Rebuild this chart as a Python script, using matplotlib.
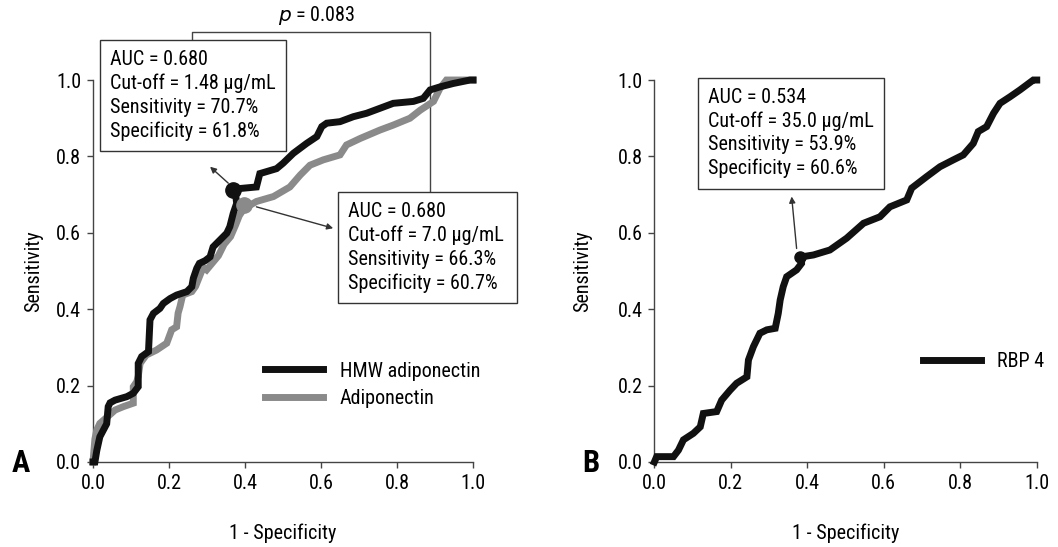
import matplotlib
matplotlib.use('Agg')
import matplotlib.pyplot as plt

plt.rcParams['font.family'] = ['Liberation Sans Narrow', 'Roboto Condensed', 'Liberation Sans', 'DejaVu Sans']
plt.rcParams['mathtext.fontset'] = 'custom'
plt.rcParams['mathtext.it'] = 'Liberation Sans Narrow:italic'

# Panel A: HMW adiponectin ROC (1 - specificity, sensitivity)
hmw_x = [0.0, 0.005, 0.01, 0.018, 0.036, 0.04, 0.045, 0.058, 0.089, 0.106, 0.119, 0.119,
         0.128, 0.146, 0.15, 0.159, 0.176, 0.185, 0.203, 0.22, 0.247, 0.26, 0.264, 0.273,
         0.28, 0.295, 0.308, 0.316, 0.334, 0.352, 0.36, 0.369, 0.378, 0.374, 0.387, 0.43,
         0.439, 0.456, 0.483, 0.5, 0.527, 0.562, 0.589, 0.602, 0.615, 0.65, 0.685, 0.72,
         0.755, 0.79, 0.843, 0.869, 0.887, 0.913, 0.948, 0.992, 1.0]
hmw_y = [0.0, 0.0, 0.03, 0.066, 0.10, 0.145, 0.155, 0.162, 0.171, 0.18, 0.197, 0.258,
         0.276, 0.289, 0.372, 0.389, 0.402, 0.415, 0.428, 0.437, 0.446, 0.459, 0.481, 0.507,
         0.52, 0.527, 0.537, 0.563, 0.581, 0.599, 0.616, 0.651, 0.677, 0.712, 0.716, 0.72,
         0.755, 0.76, 0.768, 0.782, 0.808, 0.834, 0.852, 0.878, 0.887, 0.891, 0.904, 0.913,
         0.926, 0.939, 0.944, 0.952, 0.974, 0.982, 0.991, 1.0, 1.0]

# Panel A: total adiponectin ROC
adi_x = [0.0, 0.005, 0.01, 0.018, 0.04, 0.058, 0.08, 0.106, 0.106, 0.115, 0.119, 0.124,
         0.14, 0.167, 0.194, 0.207, 0.22, 0.224, 0.229, 0.233, 0.236, 0.26, 0.27, 0.282,
         0.29, 0.299, 0.33, 0.345, 0.362, 0.375, 0.385, 0.397, 0.43, 0.475, 0.518, 0.545,
         0.571, 0.606, 0.65, 0.667, 0.703, 0.755, 0.79, 0.834, 0.861, 0.896, 0.913, 0.93,
         0.966, 1.0]
adi_y = [0.0, 0.06, 0.084, 0.101, 0.12, 0.136, 0.145, 0.154, 0.197, 0.21, 0.224, 0.258,
         0.28, 0.293, 0.311, 0.346, 0.354, 0.39, 0.407, 0.424, 0.437, 0.446, 0.46, 0.49,
         0.51, 0.503, 0.54, 0.57, 0.59, 0.62, 0.645, 0.663, 0.682, 0.695, 0.72, 0.751,
         0.777, 0.791, 0.804, 0.83, 0.847, 0.869, 0.882, 0.9, 0.921, 0.944, 0.978, 1.0,
         1.0, 1.0]

# Panel B: RBP 4 ROC
rbp_x = [0.0, 0.006, 0.05, 0.063, 0.076, 0.102, 0.12, 0.128, 0.163, 0.176, 0.198, 0.215,
         0.242, 0.246, 0.259, 0.276, 0.294, 0.316, 0.324, 0.329, 0.337, 0.346, 0.372, 0.385,
         0.385, 0.416, 0.459, 0.503, 0.547, 0.59, 0.616, 0.66, 0.673, 0.712, 0.747, 0.782,
         0.808, 0.834, 0.847, 0.869, 0.887, 0.904, 0.93, 0.956, 0.991, 1.0]
rbp_y = [0.0, 0.014, 0.014, 0.031, 0.058, 0.075, 0.092, 0.127, 0.132, 0.162, 0.188, 0.206,
         0.223, 0.267, 0.302, 0.337, 0.346, 0.35, 0.389, 0.424, 0.459, 0.485, 0.503, 0.52,
         0.537, 0.542, 0.555, 0.586, 0.625, 0.642, 0.668, 0.686, 0.717, 0.747, 0.773, 0.791,
         0.804, 0.834, 0.865, 0.878, 0.913, 0.939, 0.956, 0.974, 1.0, 1.0]

ticks = [0.0, 0.2, 0.4, 0.6, 0.8, 1.0]
tick_labels = ['0.0', '0.2', '0.4', '0.6', '0.8', '1.0']

# Cut-off points as drawn
hmw_cut = (0.369, 0.712)
adi_cut = (0.397, 0.673)
rbp_cut = (0.382, 0.537)

black = '#111111'
grey = '#8a8a8a'
fs = 14.5

fig = plt.figure(figsize=(10.58, 5.47), dpi=100)
axA = fig.add_axes([0.0879, 0.1554, 0.3592, 0.6983])
axB = fig.add_axes([0.6185, 0.1554, 0.3614, 0.6983])

for ax in (axA, axB):
    ax.set_xlim(0, 1)
    ax.set_ylim(0, 1)
    ax.set_xticks(ticks)
    ax.set_xticklabels(tick_labels)
    ax.set_yticks(ticks)
    ax.set_yticklabels(tick_labels)
    for s in ['top', 'right']:
        ax.spines[s].set_visible(False)
    for s in ['left', 'bottom']:
        ax.spines[s].set_color('#444444')
        ax.spines[s].set_linewidth(1.0)
    ax.tick_params(direction='out', length=4.5, width=1.0, color='#444444',
                   labelsize=fs, pad=4)
    ax.set_xlabel('1 - Specificity', fontsize=fs, labelpad=22)

axA.set_ylabel('Sensitivity', fontsize=fs, labelpad=9)
axB.set_ylabel('Sensitivity', fontsize=fs, labelpad=18)

# Panel A curves
axA.plot(adi_x, adi_y, color=grey, lw=5, solid_joinstyle='miter', clip_on=False,
         label='Adiponectin', zorder=3)
axA.plot(hmw_x, hmw_y, color=black, lw=5, solid_joinstyle='miter', clip_on=False,
         label='HMW adiponectin', zorder=4)
axA.plot(*hmw_cut, 'o', color=black, ms=11, zorder=5, clip_on=False)
axA.plot(*adi_cut, 'o', color=grey, ms=11, zorder=5, clip_on=False)

h, l = axA.get_legend_handles_labels()
axA.legend(h[::-1], l[::-1], loc='lower left', bbox_to_anchor=(0.405, 0.095),
           frameon=False, fontsize=fs, handlelength=2.9, handletextpad=0.8,
           labelspacing=0.4)

box = dict(boxstyle='square,pad=0.5', fc='white', ec='#333333', lw=1.0)
axA.text(0.045, 1.078, 'AUC = 0.680\nCut-off = 1.48 \u03bcg/mL\nSensitivity = 70.7%\nSpecificity = 61.8%',
         fontsize=fs, va='top', ha='left', bbox=box, linespacing=1.3, zorder=6)
axA.text(0.672, 0.68, 'AUC = 0.680\nCut-off = 7.0 \u03bcg/mL\nSensitivity = 66.3%\nSpecificity = 60.7%  ',
         fontsize=fs, va='top', ha='left', bbox=box, linespacing=1.3, zorder=6)

axA.annotate('', xy=(0.308, 0.773), xytext=(0.356, 0.73),
             arrowprops=dict(arrowstyle='-|>', color='#333333', lw=1.0,
                             mutation_scale=9, shrinkA=0, shrinkB=0), zorder=6)
axA.annotate('', xy=(0.632, 0.612), xytext=(0.43, 0.668),
             arrowprops=dict(arrowstyle='-|>', color='#333333', lw=1.0,
                             mutation_scale=9, shrinkA=0, shrinkB=0), zorder=6)

# p-value bracket
axA.plot([0.26, 0.26, 0.887, 0.887], [1.102, 1.126, 1.126, 0.704],
         color='#444444', lw=1.0, clip_on=False, zorder=2)
axA.text(0.59, 1.138, '$p$ = 0.083', fontsize=fs, ha='center', va='bottom')

# Panel B
axB.plot(rbp_x, rbp_y, color=black, lw=5, solid_joinstyle='miter', clip_on=False,
         label='RBP 4', zorder=4)
axB.plot(*rbp_cut, 'o', color=black, ms=8, zorder=5, clip_on=False)
axB.legend(loc='lower left', bbox_to_anchor=(0.655, 0.19), frameon=False, fontsize=fs,
           handlelength=2.9, handletextpad=0.8)
axB.text(0.14, 0.98, 'AUC = 0.534\nCut-off = 35.0 \u03bcg/mL\nSensitivity = 53.9%\nSpecificity = 60.6%',
         fontsize=fs, va='top', ha='left', bbox=box, linespacing=1.3, zorder=6)
axB.annotate('', xy=(0.359, 0.695), xytext=(0.372, 0.559),
             arrowprops=dict(arrowstyle='-|>', color='#333333', lw=1.0,
                             mutation_scale=9, shrinkA=0, shrinkB=0), zorder=6)

fig.text(0.02, 0.138, 'A', fontsize=22, fontweight='bold', ha='center', va='baseline')
fig.text(0.558, 0.138, 'B', fontsize=22, fontweight='bold', ha='center', va='baseline')

fig.savefig('out.png', dpi=100)
